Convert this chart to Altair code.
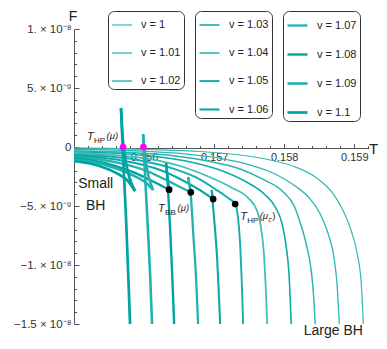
import altair as alt
import pandas as pd

FONT = "Liberation Sans"

V_LABELS = ["v = 1", "v = 1.01", "v = 1.02", "v = 1.03", "v = 1.04", "v = 1.05",
            "v = 1.06", "v = 1.07", "v = 1.08", "v = 1.09", "v = 1.1"]
LINE_COLORS = ["#33b8b4", "#2eb6b2", "#2ab4b0", "#10aaaa", "#40bebb", "#16adac",
               "#0ca8a8", "#24b2af", "#00a3a3", "#22b1ae", "#00a2a2"]
LINE_WIDTHS = [1.2, 1.3, 1.45, 1.6, 1.8, 1.9, 2.1, 2.3, 2.4, 2.6, 2.7]

# F in units of 1e-9
T_100 = [0.155000, 0.156086, 0.156800, 0.157371, 0.157800, 0.158157, 0.158443, 0.158700, 0.158843, 0.158957, 0.159043, 0.159100, 0.159129]
F_100 = [-0.08, -0.21, -0.38, -0.68, -1.10, -1.69, -2.54, -3.98, -5.42, -7.12, -9.07, -11.61, -15.0]
T_101 = [0.155000, 0.155943, 0.156586, 0.157086, 0.157514, 0.157871, 0.158157, 0.158371, 0.158514, 0.158629, 0.158714, 0.158757, 0.158786]
F_101 = [-0.19, -0.34, -0.59, -0.97, -1.53, -2.29, -3.31, -4.41, -5.68, -7.37, -9.49, -11.86, -15.0]
T_102 = [0.155000, 0.155800, 0.156443, 0.156943, 0.157371, 0.157686, 0.157986, 0.158143, 0.158229, 0.158314, 0.158386, 0.158421, 0.158443]
F_102 = [-0.31, -0.47, -0.76, -1.23, -1.86, -2.71, -3.81, -5.00, -6.44, -8.22, -10.51, -12.71, -15.0]
T_103 = [0.155000, 0.155657, 0.156229, 0.156729, 0.157157, 0.157486, 0.157714, 0.157871, 0.157971, 0.158029, 0.158071, 0.158100]
F_103 = [-0.42, -0.55, -0.85, -1.36, -2.12, -3.05, -3.98, -5.08, -6.53, -8.47, -11.02, -15.0]
T_104 = [0.155000, 0.155586, 0.156086, 0.156514, 0.156900, 0.157257, 0.157486, 0.157614, 0.157671, 0.157714, 0.157736, 0.157757]
F_104 = [-0.53, -0.68, -1.02, -1.61, -2.46, -3.47, -4.32, -5.42, -6.95, -9.32, -11.86, -15.0]
T_105 = [0.155000, 0.155514, 0.155943, 0.156371, 0.156729, 0.157014, 0.157200, 0.157300, 0.157343, 0.157371, 0.157393, 0.157414]
F_105 = [-0.64, -0.81, -1.14, -1.74, -2.54, -3.56, -4.32, -4.83, -6.10, -8.22, -11.19, -15.0]

T_106_small = [0.155000, 0.155443, 0.155871, 0.156229, 0.156514, 0.156771, 0.156986]
F_106_small = [-0.75, -0.93, -1.36, -1.95, -2.71, -3.56, -4.41]
T_106_mid = [0.156964, 0.156986]
F_106_mid = [-3.64, -4.41]
T_106_large = [0.156964, 0.157000, 0.157043, 0.157064, 0.157086]
F_106_large = [-3.64, -6.10, -9.49, -12.03, -15.0]

T_107_small = [0.155000, 0.155371, 0.155729, 0.156057, 0.156314, 0.156514, 0.156667]
F_107_small = [-0.86, -1.06, -1.48, -2.08, -2.80, -3.39, -3.84]
T_107_mid = [0.156629, 0.156667]
F_107_mid = [-2.54, -3.84]
T_107_large = [0.156629, 0.156671, 0.156707, 0.156743, 0.156771]
F_107_large = [-2.54, -4.41, -7.80, -11.19, -15.0]

T_108_small = [0.155000, 0.155300, 0.155586, 0.155871, 0.156114, 0.156357]
F_108_small = [-0.97, -1.19, -1.61, -2.20, -2.88, -3.62]
T_108_mid = [0.156314, 0.156357]
F_108_mid = [-1.36, -3.62]
T_108_large = [0.156314, 0.156343, 0.156379, 0.156407, 0.156429]
F_108_large = [-1.36, -3.64, -7.80, -11.61, -15.0]

T_109_small = [0.155000, 0.155300, 0.155586, 0.155829, 0.156014, 0.156129]
F_109_small = [-1.08, -1.31, -1.78, -2.37, -2.97, -3.64]
T_109_mid = [0.155986, 0.156000, 0.156129]
F_109_mid = [1.10, 0.0, -3.64]
T_109_large = [0.155986, 0.155994, 0.156047, 0.156086, 0.156114]
F_109_large = [1.10, 0.0, -6.10, -10.76, -15.0]

T_110_small = [0.155000, 0.155229, 0.155443, 0.155629, 0.155771, 0.155871]
F_110_small = [-1.19, -1.40, -1.78, -2.29, -2.88, -3.73]
T_110_mid = [0.155671, 0.155707, 0.155871]
F_110_mid = [3.31, 0.0, -3.73]
T_110_large = [0.155671, 0.155694, 0.155743, 0.155771, 0.155800]
F_110_large = [3.31, 0.0, -6.10, -10.34, -15.0]

HP_DOT_T = [0.155700, 0.155990]
HP_DOT_F = [0.0, 0.0]
BB_DOT_T = [0.156357, 0.156667, 0.156986, 0.157300]
BB_DOT_F = [-3.62, -3.84, -4.41, -4.83]

ANN_T = [0.155186, 0.156200, 0.157371]
ANN_F = [0.59, -5.51, -6.19]
ANN_SUB = ["HP", "BB", "HP"]
ANN_ARG = ["(μ)", "(μ)", "(μ"]

X_TICKS = [0.1552, 0.1554, 0.1556, 0.1558, 0.156, 0.1562, 0.1564, 0.1566, 0.1568, 0.157,
           0.1572, 0.1574, 0.1576, 0.1578, 0.158, 0.1582, 0.1584, 0.1586, 0.1588, 0.159, 0.1592]
Y_TICKS = [-15, -14, -13, -12, -11, -10, -9, -8, -7, -6, -5, -4, -3, -2, -1,
           0, 1, 2, 3, 4, 5, 6, 7, 8, 9, 10]
Y_LABELS = {10: "1. × 10⁻⁸", 5: "5. × 10⁻⁹", 0: "0", -5: "−5. × 10⁻⁹",
            -10: "−1. × 10⁻⁸", -15: "−1.5 × 10⁻⁸"}

branches = [
    ("v = 1", "s", T_100, F_100), ("v = 1.01", "s", T_101, F_101),
    ("v = 1.02", "s", T_102, F_102), ("v = 1.03", "s", T_103, F_103),
    ("v = 1.04", "s", T_104, F_104), ("v = 1.05", "s", T_105, F_105),
    ("v = 1.06", "a", T_106_small, F_106_small), ("v = 1.06", "b", T_106_mid, F_106_mid),
    ("v = 1.06", "c", T_106_large, F_106_large),
    ("v = 1.07", "a", T_107_small, F_107_small), ("v = 1.07", "b", T_107_mid, F_107_mid),
    ("v = 1.07", "c", T_107_large, F_107_large),
    ("v = 1.08", "a", T_108_small, F_108_small), ("v = 1.08", "b", T_108_mid, F_108_mid),
    ("v = 1.08", "c", T_108_large, F_108_large),
    ("v = 1.09", "a", T_109_small, F_109_small), ("v = 1.09", "b", T_109_mid, F_109_mid),
    ("v = 1.09", "c", T_109_large, F_109_large),
    ("v = 1.1", "a", T_110_small, F_110_small), ("v = 1.1", "b", T_110_mid, F_110_mid),
    ("v = 1.1", "c", T_110_large, F_110_large),
]
rows = []
for v, b, ts, fs in branches:
    for i, (t, f) in enumerate(zip(ts, fs)):
        rows.append({"v": v, "branch": v + "_" + b, "i": i, "T": t, "F": f})
curves = pd.DataFrame(rows)

hp = pd.DataFrame({"T": HP_DOT_T, "F": HP_DOT_F})
bb = pd.DataFrame({"T": BB_DOT_T, "F": BB_DOT_F})
ann = pd.DataFrame({"T": ANN_T, "F": ANN_F, "sub": ANN_SUB, "arg": ANN_ARG})
ann_c = ann.iloc[[2]]
labels_df = pd.DataFrame({"T": [0.15531, 0.15531, 0.15870], "F": [-3.14, -5.0, -15.59],
                          "txt": ["Small", "BH", "Large BH"]})

x_scale = alt.Scale(domain=[0.155, 0.15921], nice=False, zero=False)
y_scale = alt.Scale(domain=[-15, 10], nice=False, zero=False)

y_expr = " : ".join(f"datum.value == {k} ? '{v}'" for k, v in Y_LABELS.items()) + " : ''"
x_major = "format(datum.value, '.4f') == format(datum.value, '.3f') + '0'"
x_expr = x_major + " ? format(datum.value, '.3f') : ''"

x_axis = alt.Axis(orient="top", offset=-119, values=X_TICKS, tickCount=100, labelExpr=x_expr,
                  tickSize={"condition": {"test": x_major, "value": 4.5}, "value": 2.5},
                  labelPadding=-8, labelBaseline="top", labelFont=FONT,
                  labelFontSize=11, labelColor="#333333", domainColor="#555555",
                  tickColor="#555555", grid=False, labelFlush=False, labelOverlap=False,
                  labelBound=False,
                  title="T", titleX=299, titleY=0, titleAngle=0, titleAlign="center",
                  titleBaseline="middle", titleFont=FONT, titleFontSize=15,
                  titleFontWeight="normal", titleColor="#222222")
y_axis = alt.Axis(orient="right", offset=-295, values=Y_TICKS, tickCount=100, labelExpr=y_expr,
                  tickSize={"condition": {"test": "datum.value % 5 == 0", "value": 5}, "value": 2.7},
                  labelPadding=-8, labelAlign="right", labelBaseline="middle",
                  labelFont=FONT, labelFontSize=11.5, labelColor="#333333", domainColor="#555555",
                  tickColor="#555555", grid=False, labelFlush=False, labelOverlap=False,
                  labelBound=False,
                  title="F", titleX=-1.5, titleY=-13, titleAngle=0, titleAlign="center",
                  titleBaseline="middle", titleFont=FONT, titleFontSize=14,
                  titleFontWeight="normal", titleColor="#222222")


def curve_layer(idx, lx):
    labs = [V_LABELS[i] for i in idx]
    cols = [LINE_COLORS[i] for i in idx]
    wids = [LINE_WIDTHS[i] for i in idx]
    leg = alt.Legend(orient="none", legendX=lx, legendY=-18, title=None, symbolType="stroke",
                     symbolSize=400, strokeColor="#333333", cornerRadius=6, padding=3,
                     fillColor="white", labelFont=FONT, labelFontSize=11, labelColor="#222222",
                     rowPadding=12, labelOffset=8)
    return alt.Chart(curves).transform_filter(
        alt.FieldOneOfPredicate(field="v", oneOf=labs)
    ).mark_line(interpolate="monotone", clip=True).encode(
        x=alt.X("T:Q", scale=x_scale, axis=x_axis),
        y=alt.Y("F:Q", scale=y_scale, axis=y_axis),
        detail="branch:N",
        order="i:Q",
        color=alt.Color("v:N", scale=alt.Scale(domain=labs, range=cols), legend=leg),
        strokeWidth=alt.StrokeWidth("v:N", scale=alt.Scale(type="ordinal", domain=labs, range=wids),
                                    legend=leg),
    )


g1 = curve_layer([0, 1, 2], 34)
g2 = curve_layer([3, 4, 5, 6], 121)
g3 = curve_layer([7, 8, 9, 10], 209)

enc = dict(x=alt.X("T:Q", scale=x_scale), y=alt.Y("F:Q", scale=y_scale))

hp_dots = alt.Chart(hp).mark_circle(size=45, opacity=1, color="#ff00ff").encode(**enc)
bb_dots = alt.Chart(bb).mark_circle(size=45, opacity=1, color="#000000").encode(**enc)

t_main = alt.Chart(ann).mark_text(align="left", baseline="alphabetic", font=FONT, fontSize=11,
                                   fontStyle="italic", color="#222222").encode(text=alt.value("T"), **enc)
t_sub = alt.Chart(ann).mark_text(align="left", baseline="alphabetic", font=FONT, fontSize=8,
                                  dx=7, dy=3, color="#222222").encode(text="sub:N", **enc)
t_arg = alt.Chart(ann).mark_text(align="left", baseline="alphabetic", font=FONT, fontSize=9.5,
                                  dx=19.5, dy=-1, fontStyle="italic", color="#222222").encode(text="arg:N", **enc)
t_c = alt.Chart(ann_c).mark_text(align="left", baseline="alphabetic", font=FONT, fontSize=7,
                                  dx=28, dy=2, fontStyle="italic", color="#222222").encode(text=alt.value("c"), **enc)
t_cp = alt.Chart(ann_c).mark_text(align="left", baseline="alphabetic", font=FONT, fontSize=9.5,
                                   dx=32, dy=-1, color="#222222").encode(text=alt.value(")"), **enc)
big_txt = alt.Chart(labels_df).mark_text(align="center", baseline="middle", font=FONT, fontSize=14,
                                          color="#222222").encode(text="txt:N", **enc)

chart = alt.layer(g1, g2, g3, hp_dots, bb_dots, t_main, t_sub, t_arg, t_c, t_cp, big_txt).resolve_scale(
    color="independent", strokeWidth="independent"
).properties(
    width=295, height=295,
    padding={"left": 66, "top": 21, "right": 10, "bottom": 17},
    autosize=alt.AutoSizeParams(type="none"),
    background="white",
).configure_view(stroke=None).configure_axis(labelOverlap=False)

chart.save("out.html", embed_options={"renderer": "svg", "actions": False})
